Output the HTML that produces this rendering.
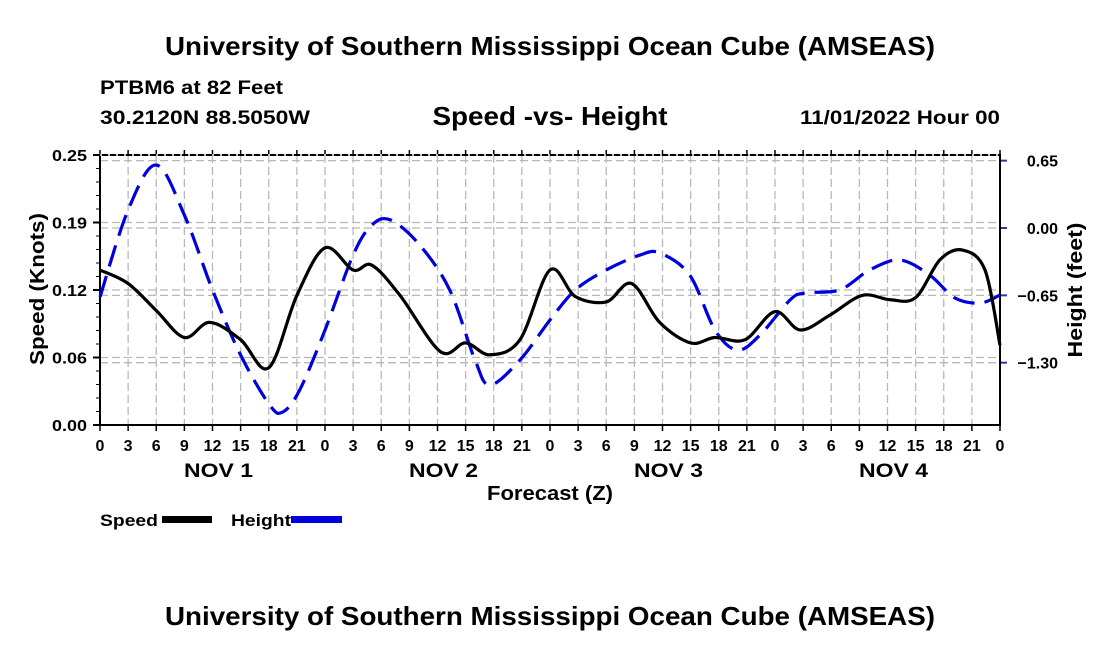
<!DOCTYPE html>
<html><head><meta charset="utf-8"><style>
body{margin:0;background:#fff;width:1100px;height:650px;overflow:hidden}
svg text{font-family:"Liberation Sans",sans-serif;font-weight:bold;fill:#000}
</style></head><body>
<svg id="chart" width="1100" height="650" viewBox="0 0 1100 650">
<text x="550" y="55" font-size="26" text-anchor="middle" textLength="770" lengthAdjust="spacingAndGlyphs">University of Southern Mississippi Ocean Cube (AMSEAS)</text>
<text x="100" y="94" font-size="19" textLength="183" lengthAdjust="spacingAndGlyphs">PTBM6 at 82 Feet</text>
<text x="100" y="124" font-size="19" textLength="210" lengthAdjust="spacingAndGlyphs">30.2120N  88.5050W</text>
<text x="550" y="125" font-size="26" text-anchor="middle" textLength="235" lengthAdjust="spacingAndGlyphs">Speed -vs- Height</text>
<text x="1000" y="124" font-size="19" text-anchor="end" textLength="200" lengthAdjust="spacingAndGlyphs">11/01/2022 Hour 00</text>
<g id="grid"></g>
<g id="axes"></g>
<g id="series"></g>
<text x="44" y="289" font-size="20" text-anchor="middle" textLength="152" lengthAdjust="spacingAndGlyphs" transform="rotate(-90 44 289)">Speed (Knots)</text>
<text x="1082" y="290" font-size="20" text-anchor="middle" textLength="135" lengthAdjust="spacingAndGlyphs" transform="rotate(-90 1082 290)">Height (feet)</text>
<text x="550" y="500" font-size="20" text-anchor="middle" textLength="126" lengthAdjust="spacingAndGlyphs">Forecast (Z)</text>
<text x="100" y="526" font-size="17" textLength="58" lengthAdjust="spacingAndGlyphs">Speed</text>
<rect x="162" y="516" width="50" height="7" fill="#000"/>
<text x="231" y="526" font-size="17" textLength="60" lengthAdjust="spacingAndGlyphs">Height</text>
<rect x="291" y="516" width="51" height="7" fill="#0000dd"/>
<text x="550" y="625" font-size="26" text-anchor="middle" textLength="770" lengthAdjust="spacingAndGlyphs">University of Southern Mississippi Ocean Cube (AMSEAS)</text>
</svg>
<script>
const speedHours=[0,3,6,9,11.7,15,18,21,24,27,29,32,36.3,39,41.6,44.8,48,50.7,54,56.7,59.7,63,65.6,68.8,72,74.7,77.9,81.3,84.3,87,89.6,92,94.4,96];
const speedValues=[0.1435,0.131,0.106,0.081,0.095,0.079,0.053,0.120,0.164,0.1435,0.148,0.120,0.068,0.076,0.065,0.079,0.1435,0.119,0.114,0.131,0.095,0.076,0.081,0.079,0.105,0.088,0.102,0.120,0.116,0.118,0.153,0.162,0.1435,0.074];
const heightHours=[0,3,6,9,12,15,18.1,19.5,21.3,24,27,29,31,34.1,37.3,40,41.6,44.8,48,50.7,54,57.6,59.7,62.9,65.6,68,70.4,73.6,75.2,78.9,82.1,85.3,88.5,91.2,93.9,96];
const heightValues=[-0.666,0.174,0.608,0.125,-0.598,-1.226,-1.709,-1.776,-1.564,-0.985,-0.261,0.029,0.077,-0.164,-0.598,-1.274,-1.515,-1.274,-0.888,-0.598,-0.405,-0.261,-0.241,-0.454,-0.985,-1.178,-1.033,-0.695,-0.627,-0.598,-0.405,-0.309,-0.454,-0.676,-0.724,-0.647];
const speedTicks=[0,0.0625,0.125,0.1875,0.25];
const speedTickLabels=["0.00","0.06","0.12","0.19","0.25"];
const heightTicks=[0.65,0,-0.65,-1.3];
const heightTickLabels=["0.65","0.00","\u22120.65","\u22121.30"];
const hourLabels=["0","3","6","9","12","15","18","21"];
const dayLabels=["NOV 1","NOV 2","NOV 3","NOV 4"];

const L=100,R=1000,T=155,B=425;
const xS=h=>L+h*(R-L)/96;
const yS=v=>B-v*(B-T)/0.25;
const yH=v=>228-v*103.6;
const NS="http://www.w3.org/2000/svg";
function mk(tag,attrs,parent){const e=document.createElementNS(NS,tag);for(const k in attrs)e.setAttribute(k,attrs[k]);parent.appendChild(e);return e;}
const grid=document.getElementById('grid'),axes=document.getElementById('axes'),series=document.getElementById('series');
const gs={stroke:'#b8b8b8','stroke-width':1.3,'stroke-dasharray':'8 4',fill:'none'};
for(let i=1;i<32;i++){const x=xS(i*3);const l=mk('line',Object.assign({x1:x,x2:x,y1:T,y2:B},gs),grid);

}
speedTicks.forEach((v,i)=>{const y=yS(v);
if(i>0){const l=mk('line',Object.assign({x1:L,x2:R,y1:y,y2:y},gs),grid);

}
const t=mk('line',{x1:L-7,x2:L,y1:y,y2:y,stroke:'#000','stroke-width':2},axes);


const tx=mk('text',{x:L-13,y:y+6,'font-size':16,'text-anchor':'end',textLength:35,lengthAdjust:'spacingAndGlyphs'},axes);tx.textContent=speedTickLabels[i];

});
for(let v=0;v<=0.25;v+=0.0125){const y=yS(v);mk('line',{x1:L-4,x2:L,y1:y,y2:y,stroke:'#000','stroke-width':1},axes);}
heightTicks.forEach((v,i)=>{const y=yH(v);
const l=mk('line',Object.assign({x1:L,x2:R,y1:y,y2:y},gs),grid);


const t=mk('line',{x1:R,x2:R+7,y1:y,y2:y,stroke:'#3333aa','stroke-width':2},axes);


const tx=mk('text',{x:1058,y:y+6,'font-size':16,'text-anchor':'end'},axes);tx.textContent=heightTickLabels[i];

});
for(let i=0;i<=32;i++){const x=xS(i*3);
mk('line',{x1:x,x2:x,y1:B,y2:B+6,stroke:'#000','stroke-width':1.5},axes);
mk('line',{x1:x,x2:x,y1:T,y2:T-5,stroke:'#000','stroke-width':1.5},axes);
const tx=mk('text',{x:x,y:451,'font-size':16,'text-anchor':'middle'},axes);tx.textContent=i==32?"0":hourLabels[i%8];

}
dayLabels.forEach((d,i)=>{const tx=mk('text',{x:xS(i*24+12)+6,y:477,'font-size':19,'text-anchor':'middle',textLength:69,lengthAdjust:'spacingAndGlyphs'},axes);tx.textContent=d;

});
const fr=mk('rect',{x:L,y:T,width:R-L,height:B-T,fill:'none',stroke:'#000','stroke-width':2},axes);


mk('line',{x1:L,x2:R,y1:T,y2:T,stroke:'#fff','stroke-width':1.5,'stroke-dasharray':'2 6'},axes);
function path(hs,vs,yf){const p=hs.map((h,i)=>[xS(h),yf(vs[i])]);let d='M'+p[0][0]+','+p[0][1];
for(let i=0;i<p.length-1;i++){const p0=p[Math.max(0,i-1)],p1=p[i],p2=p[i+1],p3=p[Math.min(p.length-1,i+2)];
d+=' C'+(p1[0]+(p2[0]-p0[0])/6)+','+(p1[1]+(p2[1]-p0[1])/6)+' '+(p2[0]-(p3[0]-p1[0])/6)+','+(p2[1]-(p3[1]-p1[1])/6)+' '+p2[0]+','+p2[1];}
return d;}
const hp=mk('path',{d:path(heightHours,heightValues,yH),fill:'none',stroke:'#0000dd','stroke-width':3.2,'stroke-dasharray':'22 10'},series);


const sp=mk('path',{d:path(speedHours,speedValues,yS),fill:'none',stroke:'#000','stroke-width':3.2},series);


</script>
</body></html>
